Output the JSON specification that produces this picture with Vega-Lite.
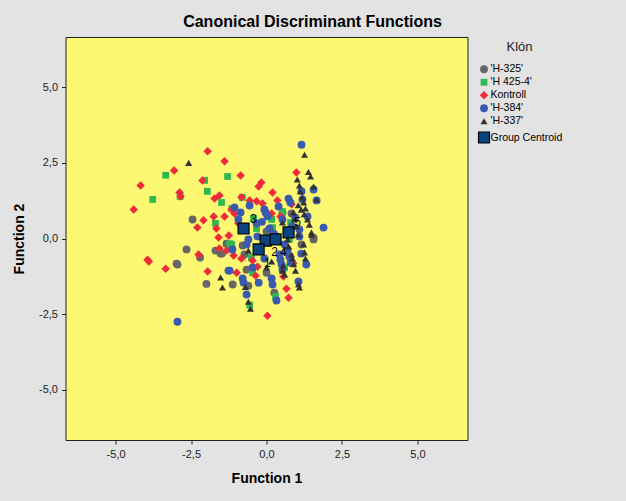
{"$schema":"https://vega.github.io/schema/vega-lite/v6.json","width":402,"height":403,"autosize":"none","padding":{"left":65.5,"top":37,"right":158,"bottom":61},"background":"#e3e3e3",
"config":{"font":"Liberation Sans","view":{"stroke":"#222222","strokeWidth":1,"fill":"#fdf872"}},
"title":{"text":"Canonical Discriminant Functions","font":"Liberation Sans","fontSize":16,"fontWeight":"bold","color":"#000000","anchor":"middle","offset":7,"dx":46},
"datasets":{"pts":[
{"g":"'H-325'","x":-2.45,"y":0.63},{"g":"'H-325'","x":-1.32,"y":-0.17},{"g":"'H-325'","x":-2.65,"y":-0.36},{"g":"'H-325'","x":-1.69,"y":-0.4},{"g":"'H-325'","x":-1.52,"y":-0.5},{"g":"'H-325'","x":-2.2,"y":-0.63},{"g":"'H-325'","x":-2.98,"y":-0.83},{"g":"'H-325'","x":-2.95,"y":-0.86},{"g":"'H-325'","x":-1.99,"y":-1.5},{"g":"'H-325'","x":0.53,"y":0.86},{"g":"'H-325'","x":0.83,"y":0.83},{"g":"'H-325'","x":0,"y":0.23},{"g":"'H-325'","x":1.56,"y":0.03},{"g":"'H-325'","x":-1.32,"y":-0.17},{"g":"'H-325'","x":-0.79,"y":-0.23},{"g":"'H-325'","x":-1.48,"y":-0.5},{"g":"'H-325'","x":-0.73,"y":-0.53},{"g":"'H-325'","x":-1.12,"y":-1.52},{"g":"'H-325'","x":-0.6,"y":-1.56},{"g":"'H-325'","x":0.26,"y":-1.79},{"g":"'H-325'","x":1.16,"y":-0.2},{"g":"'H-325'","x":1.56,"y":-0.03},{"g":"'H-325'","x":0,"y":-1.13},{"g":"'H-325'","x":-0.66,"y":-1.03},
{"g":"'H 425-4'","x":-3.34,"y":2.09},{"g":"'H 425-4'","x":-2.05,"y":1.92},{"g":"'H 425-4'","x":-1.29,"y":2.05},{"g":"'H 425-4'","x":-1.96,"y":1.56},{"g":"'H 425-4'","x":-3.77,"y":1.29},{"g":"'H 425-4'","x":-2.86,"y":1.39},{"g":"'H 425-4'","x":-1.49,"y":1.19},{"g":"'H 425-4'","x":-1.69,"y":0.5},{"g":"'H 425-4'","x":-1.22,"y":-0.17},{"g":"'H 425-4'","x":-0.8,"y":1.36},{"g":"'H 425-4'","x":-0.43,"y":0.66},{"g":"'H 425-4'","x":0.17,"y":0.63},{"g":"'H 425-4'","x":-0.33,"y":0.33},{"g":"'H 425-4'","x":-1.15,"y":0.99},{"g":"'H 425-4'","x":0.2,"y":0.36},{"g":"'H 425-4'","x":0.8,"y":0.53},{"g":"'H 425-4'","x":0.53,"y":0.89},{"g":"'H 425-4'","x":-1.15,"y":-0.2},{"g":"'H 425-4'","x":-0.5,"y":-0.63},{"g":"'H 425-4'","x":-0.46,"y":-1.13},{"g":"'H 425-4'","x":0.3,"y":-1.92},{"g":"'H 425-4'","x":-0.56,"y":-2.2},{"g":"'H 425-4'","x":0.76,"y":-0.03},{"g":"'H 425-4'","x":0.6,"y":-0.96},
{"g":"Kontroll","x":-1.95,"y":2.88},{"g":"Kontroll","x":-1.39,"y":2.55},{"g":"Kontroll","x":-3.06,"y":2.25},{"g":"Kontroll","x":-2.12,"y":1.92},{"g":"Kontroll","x":-4.17,"y":1.75},{"g":"Kontroll","x":-2.88,"y":1.52},{"g":"Kontroll","x":-2.85,"y":1.39},{"g":"Kontroll","x":-1.56,"y":1.42},{"g":"Kontroll","x":-1.72,"y":1.32},{"g":"Kontroll","x":-4.4,"y":0.96},{"g":"Kontroll","x":-1.75,"y":0.73},{"g":"Kontroll","x":-1.39,"y":0.73},{"g":"Kontroll","x":-2.09,"y":0.6},{"g":"Kontroll","x":-2.29,"y":0.36},{"g":"Kontroll","x":-1.66,"y":0.33},{"g":"Kontroll","x":-1.59,"y":0.03},{"g":"Kontroll","x":-1.25,"y":0.1},{"g":"Kontroll","x":-1.56,"y":-0.33},{"g":"Kontroll","x":-1.32,"y":-0.4},{"g":"Kontroll","x":-2.25,"y":-0.53},{"g":"Kontroll","x":-3.94,"y":-0.7},{"g":"Kontroll","x":-3.9,"y":-0.76},{"g":"Kontroll","x":-3.34,"y":-1},{"g":"Kontroll","x":-1.95,"y":-1.09},{"g":"Kontroll","x":-0.86,"y":2.08},{"g":"Kontroll","x":-0.17,"y":1.85},{"g":"Kontroll","x":-0.26,"y":1.72},{"g":"Kontroll","x":0.2,"y":1.52},{"g":"Kontroll","x":-0.83,"y":1.36},{"g":"Kontroll","x":-0.56,"y":1.26},{"g":"Kontroll","x":-0.33,"y":1.23},{"g":"Kontroll","x":-0.13,"y":1.16},{"g":"Kontroll","x":0.36,"y":1.26},{"g":"Kontroll","x":-1.16,"y":0.96},{"g":"Kontroll","x":-1.06,"y":0.83},{"g":"Kontroll","x":0.17,"y":0.83},{"g":"Kontroll","x":0.46,"y":0.73},{"g":"Kontroll","x":-0.93,"y":0.5},{"g":"Kontroll","x":0.99,"y":2.18},{"g":"Kontroll","x":0.83,"y":1.13},{"g":"Kontroll","x":-1.09,"y":-0.56},{"g":"Kontroll","x":-0.83,"y":-0.66},{"g":"Kontroll","x":-0.46,"y":-0.73},{"g":"Kontroll","x":-0.3,"y":-0.93},{"g":"Kontroll","x":-0.36,"y":-1.23},{"g":"Kontroll","x":-0.99,"y":-1.13},{"g":"Kontroll","x":0.89,"y":-0.83},{"g":"Kontroll","x":0.66,"y":-1.66},{"g":"Kontroll","x":0.73,"y":-1.96},{"g":"Kontroll","x":0.03,"y":-2.55},{"g":"Kontroll","x":0.56,"y":-1.26},
{"g":"'H-384'","x":-1.26,"y":-1.06},{"g":"'H-384'","x":-2.95,"y":-2.75},{"g":"'H-384'","x":1.16,"y":3.1},{"g":"'H-384'","x":1.56,"y":1.62},{"g":"'H-384'","x":1.66,"y":1.26},{"g":"'H-384'","x":0.73,"y":1.32},{"g":"'H-384'","x":0.79,"y":1.19},{"g":"'H-384'","x":0.4,"y":1.06},{"g":"'H-384'","x":-0.56,"y":1.09},{"g":"'H-384'","x":-1.06,"y":1.03},{"g":"'H-384'","x":-0.86,"y":0.86},{"g":"'H-384'","x":-0.93,"y":0.63},{"g":"'H-384'","x":-0.07,"y":0.96},{"g":"'H-384'","x":-0.03,"y":0.86},{"g":"'H-384'","x":0.03,"y":0.73},{"g":"'H-384'","x":1.36,"y":0.73},{"g":"'H-384'","x":1.89,"y":0.36},{"g":"'H-384'","x":0.1,"y":0.33},{"g":"'H-384'","x":-0.33,"y":0.5},{"g":"'H-384'","x":0.53,"y":0.63},{"g":"'H-384'","x":1.16,"y":1.56},{"g":"'H-384'","x":1.19,"y":1.29},{"g":"'H-384'","x":1.09,"y":0.3},{"g":"'H-384'","x":-0.6,"y":-0.03},{"g":"'H-384'","x":-0.66,"y":-0.2},{"g":"'H-384'","x":-1.13,"y":-0.36},{"g":"'H-384'","x":-0.07,"y":-0.66},{"g":"'H-384'","x":-0.46,"y":-0.96},{"g":"'H-384'","x":-1.22,"y":-1.06},{"g":"'H-384'","x":-0.79,"y":-1.32},{"g":"'H-384'","x":-0.76,"y":-1.46},{"g":"'H-384'","x":-0.66,"y":-1.85},{"g":"'H-384'","x":-0.26,"y":-1.46},{"g":"'H-384'","x":0.17,"y":-1.32},{"g":"'H-384'","x":0.2,"y":-1.52},{"g":"'H-384'","x":0.33,"y":-2.05},{"g":"'H-384'","x":1.06,"y":-1.42},{"g":"'H-384'","x":1.32,"y":-0.86},{"g":"'H-384'","x":0.43,"y":-0.53},{"g":"'H-384'","x":0.46,"y":-0.7},{"g":"'H-384'","x":0.5,"y":-0.86},{"g":"'H-384'","x":0.53,"y":-1.03},{"g":"'H-384'","x":0.7,"y":-0.36},{"g":"'H-384'","x":0.76,"y":-0.6},{"g":"'H-384'","x":1.09,"y":0.07},{"g":"'H-384'","x":-0.3,"y":0.07},{"g":"'H-384'","x":0.6,"y":-0.2},{"g":"'H-384'","x":0.65,"y":-0.45},{"g":"'H-384'","x":0.8,"y":-0.8},{"g":"'H-384'","x":0.85,"y":0.4},{"g":"'H-384'","x":0.95,"y":0.7},{"g":"'H-384'","x":1.15,"y":-0.5},{"g":"'H-384'","x":-0.15,"y":0.55},{"g":"'H-384'","x":0.25,"y":0.15},
{"g":"'H-337'","x":-2.58,"y":2.5},{"g":"'H-337'","x":-1.52,"y":-1.29},{"g":"'H-337'","x":-1.46,"y":-1.62},{"g":"'H-337'","x":1.26,"y":2.77},{"g":"'H-337'","x":1.39,"y":2.2},{"g":"'H-337'","x":1.46,"y":2.05},{"g":"'H-337'","x":1.02,"y":1.95},{"g":"'H-337'","x":1.09,"y":1.75},{"g":"'H-337'","x":1.12,"y":1.56},{"g":"'H-337'","x":1.56,"y":1.72},{"g":"'H-337'","x":1.66,"y":1.29},{"g":"'H-337'","x":1.19,"y":1.36},{"g":"'H-337'","x":1.23,"y":1.19},{"g":"'H-337'","x":1.29,"y":0.99},{"g":"'H-337'","x":0.89,"y":0.86},{"g":"'H-337'","x":0.93,"y":0.63},{"g":"'H-337'","x":1.36,"y":0.63},{"g":"'H-337'","x":1.42,"y":0.46},{"g":"'H-337'","x":0.53,"y":0.53},{"g":"'H-337'","x":1.49,"y":0.13},{"g":"'H-337'","x":1.06,"y":0.13},{"g":"'H-337'","x":-0.6,"y":-0.4},{"g":"'H-337'","x":-0.7,"y":-1.6},{"g":"'H-337'","x":-0.6,"y":-2.09},{"g":"'H-337'","x":-0.53,"y":-2.32},{"g":"'H-337'","x":0,"y":-0.96},{"g":"'H-337'","x":0.17,"y":-0.76},{"g":"'H-337'","x":0.53,"y":-1.06},{"g":"'H-337'","x":0.6,"y":-1.19},{"g":"'H-337'","x":0.96,"y":-1.06},{"g":"'H-337'","x":1.06,"y":-1.52},{"g":"'H-337'","x":1.09,"y":-1.62},{"g":"'H-337'","x":1.23,"y":-0.2},{"g":"'H-337'","x":1.26,"y":-0.46},{"g":"'H-337'","x":1.29,"y":-0.66},{"g":"'H-337'","x":0.7,"y":-0.03},{"g":"'H-337'","x":0.73,"y":-0.26},{"g":"'H-337'","x":0.83,"y":-0.53},{"g":"'H-337'","x":0.86,"y":-0.66},{"g":"'H-337'","x":1.49,"y":0.2},{"g":"'H-337'","x":0.9,"y":-0.85},{"g":"'H-337'","x":1.0,"y":0.4},{"g":"'H-337'","x":1.15,"y":0.95},{"g":"'H-337'","x":1.25,"y":0.8},{"g":"'H-337'","x":1.05,"y":1.1},{"g":"'H-337'","x":0.55,"y":-0.9},
{"g":"Group Centroid","x":-0.76,"y":0.33},{"g":"Group Centroid","x":-0.03,"y":-0.07},{"g":"Group Centroid","x":0.3,"y":-0.03},{"g":"Group Centroid","x":-0.26,"y":-0.36},{"g":"Group Centroid","x":0.73,"y":0.2}
],"lab":[{"t":"3","x":-0.43,"y":0.66},{"t":"5","x":1.03,"y":0.56},{"t":"2","x":0.27,"y":-0.46},{"t":"4","x":0.56,"y":-0.46},{"t":"1","x":0.03,"y":-0.8}]},
"layer":[
{"data":{"name":"pts"},"mark":{"type":"point","filled":true,"opacity":1},
"encoding":{
"x":{"field":"x","type":"quantitative","scale":{"domain":[-6.66,6.66],"nice":false,"zero":false},"axis":{"values":[-5,-2.5,0,2.5,5],"grid":false,"title":"Function 1","titleFont":"Liberation Sans","titleFontSize":14,"titleFontWeight":"bold","titleColor":"#000","titlePadding":12,"labelFont":"Liberation Sans","labelFontSize":11,"labelColor":"#222","labelExpr":"replace(replace(format(datum.value,'.1f'),'.',','),'−','-')","tickSize":4,"tickColor":"#222","domain":false,"labelPadding":4}},
"y":{"field":"y","type":"quantitative","scale":{"domain":[-6.66,6.66],"nice":false,"zero":false},"axis":{"values":[-5,-2.5,0,2.5,5],"grid":false,"title":"Function 2","titleFont":"Liberation Sans","titleFontSize":14,"titleFontWeight":"bold","titleColor":"#000","titlePadding":12,"labelFont":"Liberation Sans","labelFontSize":11,"labelColor":"#222","labelExpr":"replace(replace(format(datum.value,'.1f'),'.',','),'−','-')","tickSize":4,"tickColor":"#222","domain":false,"labelPadding":4}},
"fill":{"field":"g","type":"nominal","sort":null,"scale":{"domain":["'H-325'","'H 425-4'","Kontroll","'H-384'","'H-337'","Group Centroid"],"range":["#666666","#2fb84f","#ef2a3a","#3a5ab0","#333333","#0a4480"]},
"legend":{"title":"Klón","orient":"none","legendX":412,"legendY":4,"titleFont":"Liberation Sans","titleFontSize":13,"titleFontWeight":"normal","titleColor":"#222","titlePadding":10,"titleAnchor":"middle","labelFont":"Liberation Sans","labelFontSize":10.5,"labelColor":"#000","rowPadding":2,"symbolOpacity":1,"labelOffset":0}},
"shape":{"field":"g","type":"nominal","sort":null,"scale":{"domain":["'H-325'","'H 425-4'","Kontroll","'H-384'","'H-337'","Group Centroid"],"range":["circle","square","diamond","circle","triangle-up","square"]}},
"size":{"field":"g","type":"nominal","sort":null,"scale":{"type":"ordinal","domain":["'H-325'","'H 425-4'","Kontroll","'H-384'","'H-337'","Group Centroid"],"range":[62,46,72,62,50,120]}},
"stroke":{"field":"g","type":"nominal","sort":null,"scale":{"domain":["'H-325'","'H 425-4'","Kontroll","'H-384'","'H-337'","Group Centroid"],"range":["transparent","transparent","transparent","transparent","transparent","#000000"]}},
"strokeWidth":{"field":"g","type":"nominal","sort":null,"scale":{"type":"ordinal","domain":["'H-325'","'H 425-4'","Kontroll","'H-384'","'H-337'","Group Centroid"],"range":[0,0,0,0,0,1.2]}}
}},
{"data":{"name":"lab"},"mark":{"type":"text","font":"Liberation Sans","fontSize":12,"color":"#000000"},"encoding":{"x":{"field":"x","type":"quantitative"},"y":{"field":"y","type":"quantitative"},"text":{"field":"t","type":"nominal"}}}
]}
